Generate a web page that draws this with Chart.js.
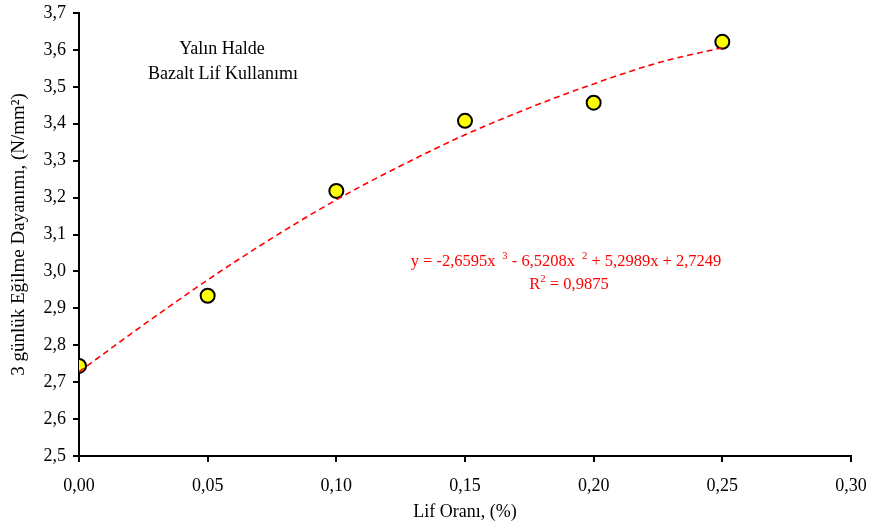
<!DOCTYPE html>
<html>
<head>
<meta charset="utf-8">
<script src="https://cdn.jsdelivr.net/npm/chart.js@4/dist/chart.umd.min.js"></script>
<style>
  html, body { margin: 0; padding: 0; background: #fff; }
  #wrap { width: 870px; height: 523px; }
</style>
</head>
<body>
<div id="wrap"><canvas id="grafik" width="870" height="523"></canvas></div>
<script>
// olculen degerler
const lifOrani = [0, 0.05, 0.10, 0.15, 0.20, 0.25];
const dayanim = [2.744, 2.934, 3.218, 3.408, 3.457, 3.622];

// trend cizgisi (resimden okunan noktalar)
const trendX = [0, 0.025, 0.05, 0.075, 0.10, 0.125, 0.15, 0.175, 0.20, 0.225, 0.25];
const trendY = [2.728, 2.855, 2.977, 3.09, 3.194, 3.286, 3.37, 3.443, 3.508, 3.565, 3.606];

const xTicks = [0, 0.05, 0.10, 0.15, 0.20, 0.25, 0.30];
const yTicks = [2.5, 2.6, 2.7, 2.8, 2.9, 3.0, 3.1, 3.2, 3.3, 3.4, 3.5, 3.6, 3.7];

const serif = "'Liberation Serif', 'Times New Roman', serif";

// yazilari ciz (ust simgelerle)
function parcaliYaz(ctx, parcalar, cx, y, boyut, renk) {
    ctx.save();
    ctx.fillStyle = renk;
    ctx.textBaseline = 'alphabetic';
    ctx.textAlign = 'left';
    let toplam = 0;
    parcalar.forEach(p => {
        ctx.font = (p.ust ? boyut * 0.65 : boyut) + 'px ' + serif;
        toplam += ctx.measureText(p.t).width;
    });
    let x = cx - toplam / 2;
    parcalar.forEach(p => {
        ctx.font = (p.ust ? boyut * 0.65 : boyut) + 'px ' + serif;
        ctx.fillText(p.t, x, p.ust ? y - boyut * 0.4 : y);
        x += ctx.measureText(p.t).width;
    });
    ctx.restore();
}

const notlar = {
    id: 'notlar',
    afterDraw(chart) {
        const ctx = chart.ctx;
        parcaliYaz(ctx, [{ t: 'Yalın Halde' }], 222, 54, 18, '#000');
        parcaliYaz(ctx, [{ t: 'Bazalt Lif Kullanımı' }], 223, 79, 18, '#000');
        parcaliYaz(ctx, [
            { t: 'y = -2,6595x ' }, { t: ' 3', ust: true },
            { t: ' - 6,5208x ' }, { t: ' 2', ust: true },
            { t: ' + 5,2989x + 2,7249' }
        ], 566, 266, 16.5, '#FF0000');
        parcaliYaz(ctx, [{ t: 'R' }, { t: '2', ust: true }, { t: ' = 0,9875' }], 569, 289, 16.5, '#FF0000');
    }
};

const ctx = document.getElementById('grafik').getContext('2d');
new Chart(ctx, {
    type: 'scatter',
    data: {
        datasets: [
            {
                label: 'Trend',
                type: 'line',
                data: trendX.map((x, i) => ({ x: x, y: trendY[i] })),
                borderColor: '#FF0000',
                borderWidth: 1.6,
                borderDash: [6, 4],
                pointRadius: 0,
                fill: false,
                cubicInterpolationMode: 'monotone'
            },
            {
                label: 'Dayanım',
                data: lifOrani.map((x, i) => ({ x: x, y: dayanim[i] })),
                backgroundColor: '#FFFF00',
                borderColor: '#000',
                borderWidth: 2,
                pointRadius: 7,
                pointHoverRadius: 7
            }
        ]
    },
    options: {
        responsive: false,
        animation: false,
        layout: { padding: { top: 13, right: 19, left: 0, bottom: 0 } },
        plugins: {
            legend: { display: false },
            tooltip: { enabled: false }
        },
        scales: {
            x: {
                type: 'linear',
                min: 0, max: 0.30,
                afterBuildTicks: s => { s.ticks = xTicks.map(v => ({ value: v })); },
                afterFit: s => { s.height = 67; s.paddingLeft = 0; s.paddingRight = 0; },
                ticks: {
                    color: '#000',
                    padding: 13,
                    font: { family: serif, size: 18 },
                    callback: v => v.toFixed(2).replace('.', ',')
                },
                grid: { drawOnChartArea: false, tickLength: 6, color: '#000', lineWidth: 2 },
                border: { color: '#000', width: 2 },
                title: {
                    display: true,
                    text: 'Lif Oranı, (%)',
                    color: '#000',
                    font: { family: serif, size: 18 },
                    padding: { top: 2, bottom: 0 }
                }
            },
            y: {
                type: 'linear',
                min: 2.5, max: 3.7,
                afterBuildTicks: s => { s.ticks = yTicks.map(v => ({ value: v })); },
                afterFit: s => { s.width = 79; s.paddingTop = 0; s.paddingBottom = 0; },
                ticks: {
                    color: '#000',
                    padding: 7,
                    font: { family: serif, size: 18 },
                    callback: v => v.toFixed(1).replace('.', ',')
                },
                grid: { drawOnChartArea: false, tickLength: 6, color: '#000', lineWidth: 2 },
                border: { color: '#000', width: 2 },
                title: {
                    display: true,
                    text: '3 günlük Eğilme Dayanımı, (N/mm²)',
                    color: '#000',
                    font: { family: serif, size: 19 },
                    padding: { top: 8, bottom: 0 }
                }
            }
        }
    },
    plugins: [notlar]
});
</script>
</body>
</html>
